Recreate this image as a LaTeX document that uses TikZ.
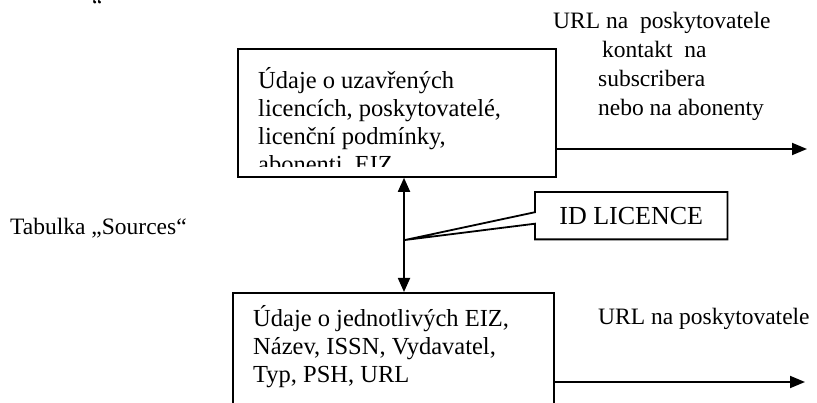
\documentclass[tikz,border=0pt]{standalone}
\usepackage{fontspec}
\setmainfont{Liberation Serif}
\usetikzlibrary{arrows.meta}
\tikzset{
  boxline/.style={draw=black, line width=1.8pt},
  plainbox/.style={boxline, rectangle, inner sep=0pt, anchor=north west},
  boxtext/.style={font=\fontsize{24.5}{27.5}\selectfont, align=left, inner sep=0pt, anchor=base west},
  lbl/.style={font=\fontsize{23.5}{29}\selectfont, align=left, inner sep=0pt, anchor=base west},
  conn/.style={line width=1.8pt, -{Triangle[length=15pt,width=12pt]}},
  dconn/.style={line width=1.8pt, {Triangle[length=14pt,width=12pt]}-{Triangle[length=14pt,width=12pt]}},
}
\begin{document}
\begin{tikzpicture}[x=1pt,y=-1pt]
\useasboundingbox (0,0) rectangle (817,403);
\clip (0,0) rectangle (817,403);
% clipped quote fragment at top
\node[lbl] (frag) at (92,14) {“};
% top box
\node[plainbox, minimum width=318pt, minimum height=128pt] (top) at (237,48) {};
\begin{scope}
\clip (237,48) rectangle (555,167);
\node[boxtext, font=\fontsize{24.5}{28}\selectfont] (toptext) at (258,173) {Údaje o uzavřených\\licencích, poskytovatelé,\\licenční podmínky,\\abonenti, EIZ};
\end{scope}
% bottom box
\node[plainbox, minimum width=321pt, minimum height=140pt] (bot) at (232,292) {};
\node[boxtext] (bottext) at (253,382) {Údaje o jednotlivých EIZ,\\Název, ISSN, Vydavatel,\\Typ, PSH, URL};
% vertical double arrow
\coordinate (ax) at (404,0);
\draw[dconn] (top.south -| ax) -- (bot.north -| ax);
% callout
\node[font=\fontsize{26}{30}\selectfont, minimum width=192pt, minimum height=47pt, inner sep=0pt, anchor=north west] (id) at (535,192) {ID LICENCE};
\coordinate (tip) at (405,240);
\draw[boxline, line join=miter] (id.north west) -- (id.north east) -- (id.south east) -- (id.south west)
  -- ([yshift=-8pt]id.west) -- (tip) -- ([yshift=3.5pt]id.west) -- cycle;
% right arrows
\coordinate (e1) at (807,149);
\coordinate (e2) at (805,382);
\draw[conn] (top.east |- e1) -- (e1);
\draw[conn] (bot.east |- e2) -- (e2);
% labels
\node[lbl] (url1) at (553,116) {URL na\ \ poskytovatele\\\hspace*{49pt}kontakt\ \ na\\\hspace*{45pt}subscribera\\\hspace*{45pt}nebo na abonenty};
\node[lbl] (url2) at (598,325) {URL na poskytovatele};
\node[lbl] (tab) at (10,235) {Tabulka „Sources“};
\end{tikzpicture}
\end{document}
